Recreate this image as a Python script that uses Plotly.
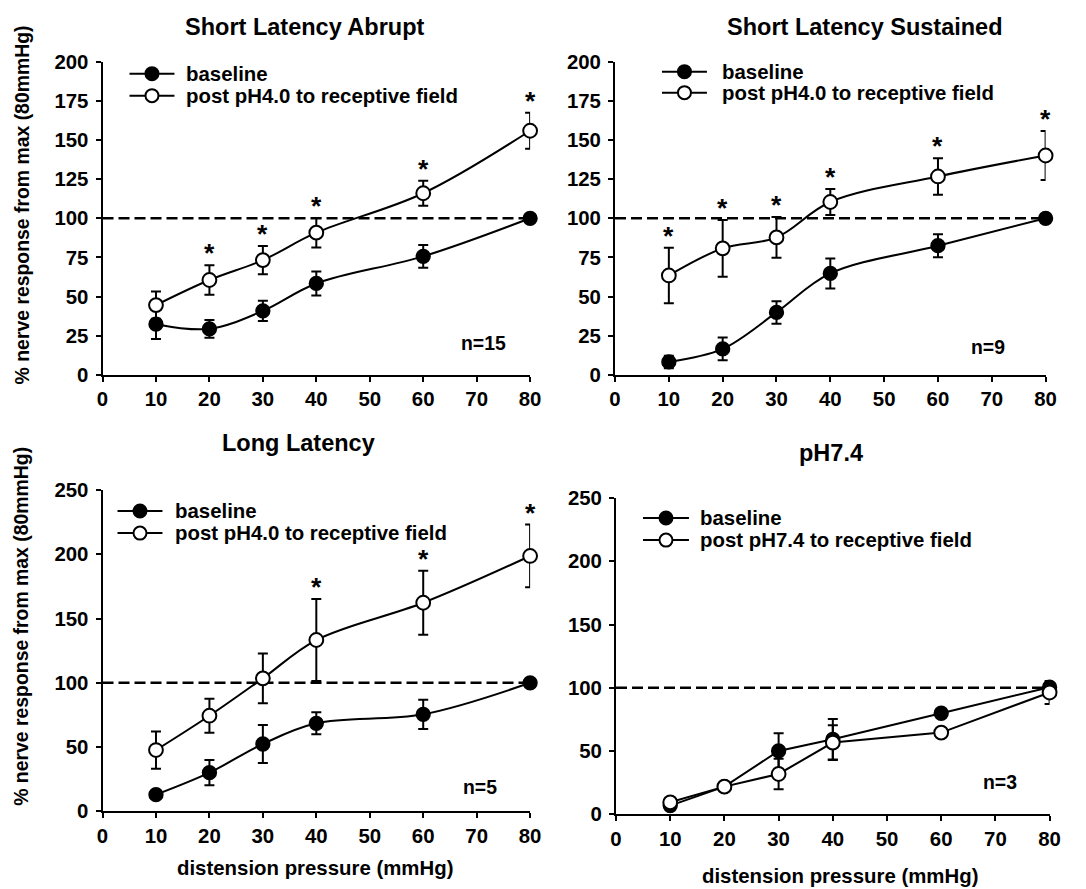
import plotly.graph_objects as go

# ---------------- data ----------------
pressure = [10, 20, 30, 40, 60, 80]

sla_base = [32.4, 29.4, 40.9, 58.4, 75.7, 100]
sla_base_err = [9.5, 5.6, 6.4, 7.7, 7.3, 0]
sla_post = [44.6, 60.6, 73.3, 90.8, 116.0, 155.9]
sla_post_err = [8.7, 9.4, 9.0, 9.4, 8.0, 11.5]
sla_sig = [False, True, True, True, True, True]

sls_base = [8.3, 16.6, 39.9, 64.8, 82.5, 100]
sls_base_err = [4.0, 7.3, 7.2, 9.6, 7.3, 0]
sls_post = [63.5, 80.8, 87.8, 110.4, 126.7, 140.1]
sls_post_err = [17.7, 18.1, 13.0, 8.3, 11.7, 15.6]
sls_sig = [True, True, True, True, True, True]

ll_base = [13.0, 30.1, 52.4, 68.5, 75.5, 100]
ll_base_err = [3.5, 9.8, 14.8, 8.5, 11.4, 0]
ll_post = [47.7, 74.4, 103.5, 133.3, 162.3, 198.7]
ll_post_err = [14.5, 13.2, 19.4, 31.9, 24.9, 24.4]
ll_sig = [False, False, False, True, True, True]

ph_base = [6.9, 21.9, 50.1, 59.3, 79.9, 100.5]
ph_base_err = [1.5, 3.0, 14.0, 16.0, 2.0, 2.0]
ph_post = [9.5, 21.9, 31.9, 56.7, 64.6, 96.3]
ph_post_err = [1.5, 3.0, 12.0, 13.7, 3.0, 9.0]
ph_sig = [False] * 6

titles = ["Short Latency Abrupt", "Short Latency Sustained", "Long Latency", "pH7.4"]
base_label = "baseline"
post_labels = ["post pH4.0 to receptive field", "post pH4.0 to receptive field",
               "post pH4.0 to receptive field", "post pH7.4 to receptive field"]
n_labels = ["n=15", "n=9", "n=5", "n=3"]
y_max = [200, 200, 250, 250]
y_step = [25, 25, 50, 50]
x_ticks = [0, 10, 20, 30, 40, 50, 60, 70, 80]

panels = [
    (sla_base, sla_base_err, sla_post, sla_post_err, sla_sig, "spline"),
    (sls_base, sls_base_err, sls_post, sls_post_err, sls_sig, "spline"),
    (ll_base, ll_base_err, ll_post, ll_post_err, ll_sig, "spline"),
    (ph_base, ph_base_err, ph_post, ph_post_err, ph_sig, "linear"),
]

# ---------------- layout geometry ----------------
# Target positions are given in picture pixels; they are converted to figure
# fractions with the measured page->picture mapping (8px body margin plus the
# capture scaling seen in earlier renders).
OFF = 8
SX, CX = 0.9855, -2.5
SY, CY = 0.9748, 3.6
W, H = 1100, 905
FS = 1 / ((SX + SY) / 2)   # size compensation for the capture scaling

boxes = [(102, 530, 62, 375), (615, 1046, 62, 375),
         (102, 530, 490, 811), (616, 1050, 498, 814)]
title_pos = [(305, 27), (865, 27), (298, 443), (831, 453)]
n_pos = [(483, 343), (988, 347), (480, 787), (1000, 782)]
legend_geo = [(129, 174, 184, 74, 96), (662, 707, 720, 72, 93),
              (117, 162, 173, 511, 533), (643, 689, 698, 518, 540)]

FONT = "Liberation Sans, Arial, sans-serif"
BLACK = "black"
fig = go.Figure()
annotations = []
shapes = []


def px_x(v):
    return ((v - CX) / SX - OFF) / W


def px_y(v):
    return 1 - ((v - CY) / SY - OFF) / H


def fs(v):
    return round(v * FS, 1)


for i, (b, be, p, pe, sig, shape) in enumerate(panels):
    k = "" if i == 0 else str(i + 1)
    xa, ya = "x" + k, "y" + k
    fig.add_trace(go.Scatter(
        x=pressure, y=b, mode="lines+markers", name=base_label,
        xaxis=xa, yaxis=ya, cliponaxis=False, showlegend=False,
        line=dict(color=BLACK, width=2, shape=shape),
        marker=dict(symbol="circle", size=fs(13.5), color=BLACK,
                    line=dict(color=BLACK, width=1.5)),
        error_y=dict(type="data", array=be, visible=True, color=BLACK,
                     thickness=2, width=5),
    ))
    fig.add_trace(go.Scatter(
        x=pressure, y=p, mode="lines+markers", name=post_labels[i],
        xaxis=xa, yaxis=ya, cliponaxis=False, showlegend=False,
        line=dict(color=BLACK, width=2, shape=shape),
        marker=dict(symbol="circle", size=fs(13.5), color="white",
                    line=dict(color=BLACK, width=2)),
        error_y=dict(type="data", array=pe, visible=True, color=BLACK,
                     thickness=2, width=5),
    ))
    l, r, t, bt = boxes[i]
    tickfont = dict(size=fs(20), family=FONT, color=BLACK, weight="bold")
    fig.update_layout(**{
        "xaxis" + k: dict(domain=[px_x(l), px_x(r)], anchor=ya, range=[0, 80],
                          tickvals=x_ticks, showline=True, linecolor=BLACK,
                          linewidth=2, ticks="outside", ticklen=5, tickwidth=2,
                          tickcolor=BLACK, showgrid=False, zeroline=False,
                          tickfont=tickfont),
        "yaxis" + k: dict(domain=[px_y(bt), px_y(t)], anchor=xa,
                          range=[0, y_max[i]], dtick=y_step[i], tick0=0,
                          showline=True, linecolor=BLACK, linewidth=2,
                          ticks="outside", ticklen=5, tickwidth=2, tickcolor=BLACK,
                          showgrid=False, zeroline=False, ticklabelstandoff=3,
                          tickfont=tickfont),
    })
    # reference line at 100 %
    shapes.append(dict(type="line", xref=xa, yref=ya, x0=0, x1=80, y0=100, y1=100,
                       line=dict(color=BLACK, width=2.5, dash="11px,5px"), layer="below"))
    # significance asterisks
    for xv, yv, ev, s in zip(pressure, p, pe, sig):
        if s:
            annotations.append(dict(x=xv, y=yv + ev, xref=xa, yref=ya, text="*",
                                    showarrow=False, yanchor="middle", yshift=12,
                                    font=dict(size=fs(26), family=FONT, color=BLACK,
                                              weight="bold")))
    # panel title
    annotations.append(dict(x=px_x(title_pos[i][0]), y=px_y(title_pos[i][1]),
                            xref="paper", yref="paper", text=titles[i], showarrow=False,
                            xanchor="center", yanchor="middle",
                            font=dict(size=fs(23), family=FONT, color=BLACK, weight="bold")))
    # n label
    annotations.append(dict(x=px_x(n_pos[i][0]), y=px_y(n_pos[i][1]),
                            xref="paper", yref="paper", text=n_labels[i], showarrow=False,
                            xanchor="center", yanchor="middle",
                            font=dict(size=fs(19), family=FONT, color=BLACK, weight="bold")))
    # legend key (line with marker + label) for both series
    lx0, lx1, tx, r1, r2 = legend_geo[i]
    cx = (lx0 + lx1) / 2
    rad = 6.5
    for ry, fill, label in ((r1, BLACK, base_label), (r2, "white", post_labels[i])):
        shapes.append(dict(type="line", xref="paper", yref="paper",
                           x0=px_x(lx0), x1=px_x(lx1), y0=px_y(ry), y1=px_y(ry),
                           line=dict(color=BLACK, width=2)))
        shapes.append(dict(type="circle", xref="paper", yref="paper",
                           x0=px_x(cx - rad), x1=px_x(cx + rad),
                           y0=px_y(ry + rad), y1=px_y(ry - rad),
                           fillcolor=fill, line=dict(color=BLACK, width=2)))
        annotations.append(dict(x=px_x(tx), y=px_y(ry), xref="paper", yref="paper",
                                text=label, showarrow=False, xanchor="left",
                                yanchor="middle",
                                font=dict(size=fs(20), family=FONT, color=BLACK,
                                          weight="bold")))

# axis titles
ytitle = "% nerve response from max (80mmHg)"
for yc in (205, 626):
    annotations.append(dict(x=px_x(21), y=px_y(yc), xref="paper", yref="paper",
                            text=ytitle, textangle=-90, showarrow=False,
                            xanchor="center", yanchor="middle",
                            font=dict(size=fs(19), family=FONT, color=BLACK, weight="bold")))
xtitle = "distension pressure (mmHg)"
for xc, yc in ((315, 868), (840, 876)):
    annotations.append(dict(x=px_x(xc), y=px_y(yc), xref="paper", yref="paper",
                            text=xtitle, showarrow=False, xanchor="center", yanchor="middle",
                            font=dict(size=fs(20), family=FONT, color=BLACK, weight="bold")))

fig.update_layout(
    width=W, height=H, margin=dict(l=0, r=0, t=0, b=0),
    paper_bgcolor="white", plot_bgcolor="white", showlegend=False,
    font=dict(family=FONT, color=BLACK),
    annotations=annotations, shapes=shapes,
)

fig.write_html("out.html")
